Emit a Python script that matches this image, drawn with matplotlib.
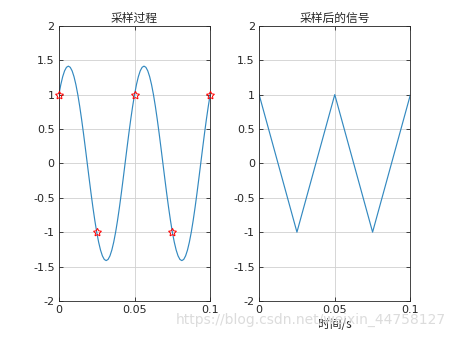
import numpy as np
import matplotlib
matplotlib.use("Agg")
import matplotlib.pyplot as plt

plt.rcParams['font.family'] = ['Noto Sans CJK SC', 'DejaVu Sans']

# continuous signal at 0.00125 s steps
t_cont = np.linspace(0, 0.1, 81)
one_period = [1.000, 1.144, 1.260, 1.345, 1.397, 1.414, 1.397, 1.345, 1.260, 1.144,
              1.000, 0.831, 0.642, 0.437, 0.221, 0.000, -0.221, -0.437, -0.642, -0.831,
              -1.000, -1.144, -1.260, -1.345, -1.397, -1.414, -1.397, -1.345, -1.260, -1.144,
              -1.000, -0.831, -0.642, -0.437, -0.221, 0.000, 0.221, 0.437, 0.642, 0.831]
x_cont = one_period + one_period + [1.000]

# sampled points
t_samp = [0, 0.025, 0.05, 0.075, 0.1]
x_samp = [1, -1, 1, -1, 1]

title_left = "采样过程"
title_right = "采样后的信号"
xlabel_right = "时间/s"
xticks = [0, 0.05, 0.1]
xtick_labels = ["0", "0.05", "0.1"]
yticks = [-2, -1.5, -1, -0.5, 0, 0.5, 1, 1.5, 2]
ytick_labels = ["-2", "-1.5", "-1", "-0.5", "0", "0.5", "1", "1.5", "2"]

line_color = "#3389c0"
ax_color = "#262626"

fig = plt.figure(figsize=(4.53, 3.40), dpi=100)
ax1 = fig.add_axes([0.130, 0.115, 0.334, 0.809])
ax2 = fig.add_axes([0.572, 0.115, 0.334, 0.809])

def style(ax):
    ax.set_xlim(0, 0.1)
    ax.set_ylim(-2, 2)
    ax.set_xticks(xticks)
    ax.set_xticklabels(xtick_labels)
    ax.set_yticks(yticks)
    ax.set_yticklabels(ytick_labels)
    ax.tick_params(direction='in', length=3, width=0.6, top=True, right=True,
                   labelsize=8, colors=ax_color, pad=3)
    for s in ax.spines.values():
        s.set_color(ax_color)
        s.set_linewidth(0.6)
    ax.grid(True, color='#d0d0d0', linewidth=0.6)
    ax.set_axisbelow(True)
    for lab in ax.get_xticklabels() + ax.get_yticklabels():
        lab.set_fontfamily(['DejaVu Sans'])

ax1.plot(t_cont, x_cont, color=line_color, linewidth=0.85)
ax1.plot(t_samp, x_samp, linestyle='none', marker=(5, 1, 0), markersize=6,
         markerfacecolor='none', markeredgecolor='red', markeredgewidth=0.7,
         clip_on=False, zorder=5)
style(ax1)
ax1.set_title(title_left, fontsize=8.5, color=ax_color, pad=3)

ax2.plot(t_samp, x_samp, color=line_color, linewidth=0.85)
style(ax2)
ax2.set_title(title_right, fontsize=8.5, color=ax_color, pad=3)
ax2.set_xlabel(xlabel_right, fontsize=8.5, color=ax_color, labelpad=2)

fig.text(0.985, 0.058, "https://blog.csdn.net/weixin_44758127", ha='right', va='center',
         fontsize=10, color='#dcdcdc', family=['DejaVu Sans'], zorder=0)

fig.savefig("out.png", dpi=100)
